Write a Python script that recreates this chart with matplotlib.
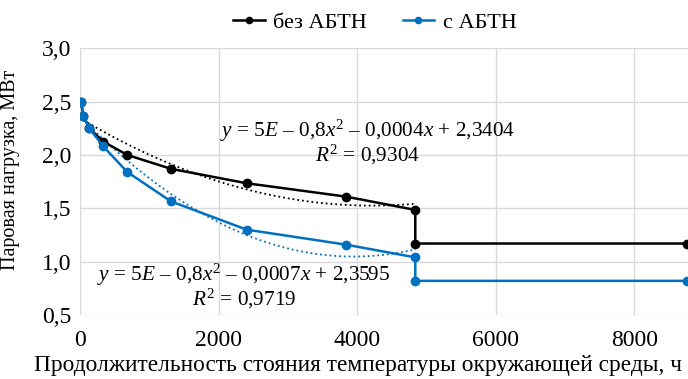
import numpy as np
import matplotlib.pyplot as plt
from matplotlib.ticker import FixedLocator, FuncFormatter

# hours of ambient temperature duration
hours = [14, 48, 134, 336, 683, 1313, 2405, 3834, 4838, 4838, 8760]
# steam load without / with absorption heat pump, MW
load_without = [2.50, 2.37, 2.25, 2.125, 2.00, 1.87, 1.735, 1.61, 1.485, 1.17, 1.17]
load_with = [2.50, 2.37, 2.25, 2.08, 1.84, 1.565, 1.30, 1.16, 1.04, 0.82, 0.82]

label_without = 'без АБТН'
label_with = 'с АБТН'
eq_without = '$y$ = 5$E$ – 0,8$x^2$ – 0,0004$x$ + 2,3404'
r2_without = '$R^2$ = 0,9304'
eq_with = '$y$ = 5$E$ – 0,8$x^2$ – 0,0007$x$ + 2,3595'
r2_with = '$R^2$ = 0,9719'

x_ticks = [0, 2000, 4000, 6000, 8000]
y_ticks = [0.5, 1.0, 1.5, 2.0, 2.5, 3.0]

plt.rcParams['font.family'] = ['Liberation Serif', 'DejaVu Serif']
plt.rcParams['mathtext.fontset'] = 'custom'
plt.rcParams['mathtext.rm'] = 'Liberation Serif'
plt.rcParams['mathtext.it'] = 'Liberation Serif:italic'

BLUE = '#0070c0'

fig = plt.figure(figsize=(6.88, 3.79), dpi=100)
ax = fig.add_axes([80 / 688, 64 / 379, 608.5 / 688, 266.7 / 379])

# quadratic trendlines over the sloped part of each curve
xs = np.array(hours[:9], dtype=float)
xfit = np.linspace(xs[1], xs[-1], 200)
for vals, col in ((load_without, 'black'), (load_with, BLUE)):
    coef = np.polyfit(xs, np.array(vals[:9]), 2)
    ax.plot(xfit, np.polyval(coef, xfit), ':', color=col, lw=1.3, zorder=2)

ax.plot(hours, load_without, '-o', color='black', lw=1.8, ms=6,
        label=label_without, zorder=3)
ax.plot(hours, load_with, '-o', color=BLUE, lw=1.8, ms=6,
        label=label_with, zorder=4)

ax.set_xlim(0, 8780)
ax.set_ylim(0.5, 3.0)
ax.xaxis.set_major_locator(FixedLocator(x_ticks))
ax.yaxis.set_major_locator(FixedLocator(y_ticks))
ax.yaxis.set_major_formatter(FuncFormatter(lambda v, p: f'{v:.1f}'.replace('.', ',')))
ax.grid(True, color='#d9d9d9', lw=1)
ax.set_axisbelow(True)
for s in ax.spines.values():
    s.set_visible(False)
ax.tick_params(length=0, labelsize=17)
ax.tick_params(axis='x', pad=11)
ax.tick_params(axis='y', pad=6)

ax.set_xlabel('Продолжительность стояния температуры окружающей среды, ч',
              fontsize=16.8)
ax.xaxis.set_label_coords(358 / 688, 1 - 365 / 379, transform=fig.transFigure)
ax.xaxis.label.set_va('center')
ax.set_ylabel('Паровая нагрузка, МВт', fontsize=14.5)
ax.yaxis.set_label_coords(20 / 688, 1 - 170 / 379, transform=fig.transFigure)

fig.text(368 / 688, 1 - 142 / 379, eq_without + '\n' + r2_without,
         ha='center', va='center', fontsize=15.3, linespacing=0.95)
fig.text(244 / 688, 1 - 286 / 379, eq_with + '\n' + r2_with,
         ha='center', va='center', fontsize=15.3, linespacing=0.95)

fig.legend(loc='center', bbox_to_anchor=(375 / 688, 1 - 23 / 379), ncol=2,
           frameon=False, fontsize=16, handlelength=1.4, columnspacing=1.6,
           handletextpad=0.4, markerscale=0.75)

fig.savefig('out.png', dpi=100)
